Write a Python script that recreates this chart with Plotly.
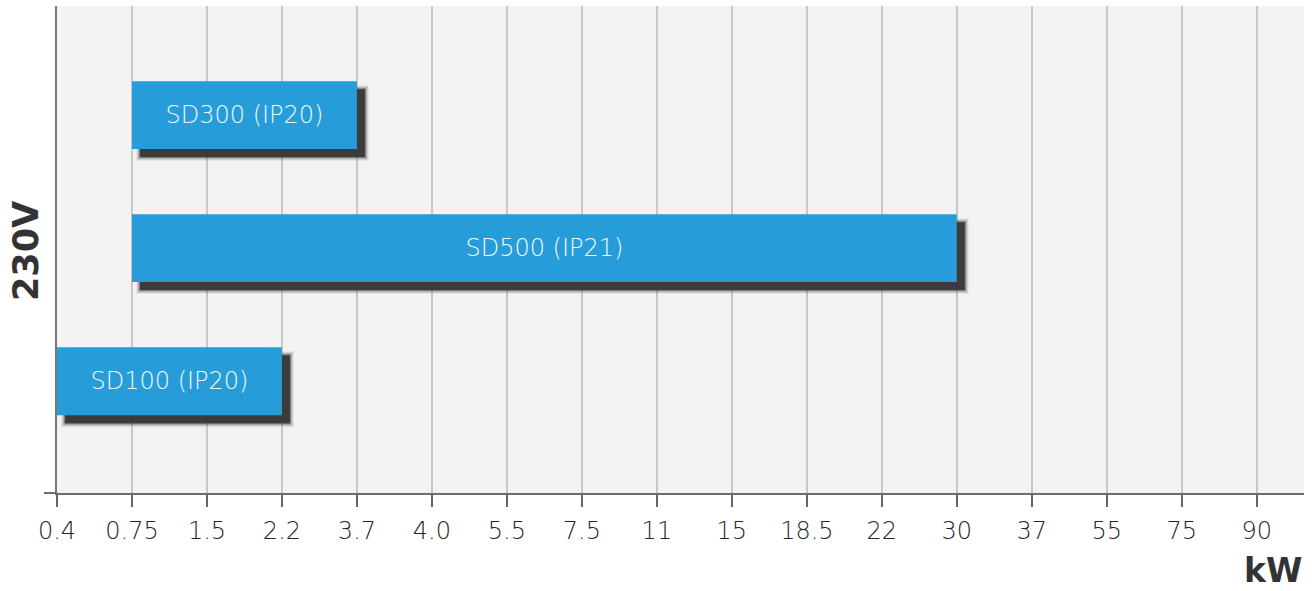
import plotly.graph_objects as go

# ---- data ----
kw_labels = ["0.4", "0.75", "1.5", "2.2", "3.7", "4.0", "5.5", "7.5", "11",
             "15", "18.5", "22", "30", "37", "55", "75", "90"]
drives = ["SD100 (IP20)", "SD500 (IP21)", "SD300 (IP20)"]
start_kw = ["0.4", "0.75", "0.75"]
end_kw = ["2.2", "30", "3.7"]
voltage_label = "230V"
unit_label = "kW"

# ---- derived ----
idx = {k: i for i, k in enumerate(kw_labels)}
y_pos = list(range(len(drives)))
base = [idx[s] for s in start_kw]
length = [idx[e] - idx[s] for s, e in zip(start_kw, end_kw)]

W, H = 1312, 591
ml, mr, mt, mb = 57, 8, 6, 98
plot_w = W - ml - mr
plot_h = H - mt - mb
x_range = [0, 16.63]
y_range = [-0.84, 2.82]
px_x = plot_w / (x_range[1] - x_range[0])
px_y = plot_h / (y_range[1] - y_range[0])
bar_w = 0.51

FONT = "DejaVu Sans"
fig = go.Figure()

# shadow layers (soft blur approximation)
sdx, sdy = 8 / px_x, 8 / px_y
for grow, alpha in [(4, 0.08), (3, 0.12), (2, 0.2), (1, 0.35), (0, 0.88)]:
    gx, gy = grow / px_x, grow / px_y
    fig.add_trace(go.Bar(
        orientation="h",
        y=[v - sdy for v in y_pos],
        base=[b + sdx - gx for b in base],
        x=[l + 2 * gx for l in length],
        width=bar_w + 2 * gy,
        marker=dict(color=f"rgba(50,50,50,{alpha})", line=dict(width=0)),
        hoverinfo="skip", showlegend=False,
    ))

fig.add_trace(go.Bar(
    orientation="h",
    y=y_pos, base=base, x=length, width=bar_w,
    marker=dict(color="#269dd9", line=dict(width=0)),
    text=drives, textposition="inside", insidetextanchor="middle",
    textfont=dict(family=FONT, size=24, color="#f0f8fd", weight=200),
    constraintext="none",
    showlegend=False, name="",
))

fig.update_layout(
    width=W, height=H,
    margin=dict(l=ml, r=mr, t=mt, b=mb, autoexpand=False),
    barmode="overlay",
    plot_bgcolor="#f3f3f3", paper_bgcolor="white",
    font=dict(family=FONT),
    xaxis=dict(
        range=x_range, tickmode="array",
        tickvals=list(range(len(kw_labels))), ticktext=kw_labels,
        showgrid=True, gridcolor="#c8c8c8", gridwidth=2,
        ticks="outside", ticklen=12, tickwidth=2, tickcolor="#666",
        showline=True, linecolor="#6d6d6d", linewidth=2,
        tickfont=dict(family=FONT, size=24, color="#262626", weight=200),
        ticklabelstandoff=3, zeroline=False, fixedrange=True,
    ),
    yaxis=dict(
        range=y_range, showticklabels=False, showgrid=False, zeroline=False,
        showline=True, linecolor="#777", linewidth=2, ticks="",
        fixedrange=True,
    ),
    shapes=[dict(type="line", xref="paper", yref="paper",
                 x0=(44 - ml) / plot_w, x1=0, y0=0, y1=0,
                 line=dict(color="#6d6d6d", width=2))],
    annotations=[
        dict(text=f"<b>{voltage_label}</b>", xref="paper", yref="paper",
             x=(26 - ml) / plot_w, y=(H - mb - 251) / plot_h,
             xanchor="center", yanchor="middle",
             textangle=-90, showarrow=False,
             font=dict(family=FONT, size=35, color="#333")),
        dict(text=f"<b>{unit_label}</b>", xref="paper", yref="paper",
             x=1.0, xanchor="right", y=(H - mb - 570) / plot_h, yanchor="middle",
             showarrow=False, font=dict(family=FONT, size=33, color="#333")),
    ],
)

fig.write_html("out.html", config={"displayModeBar": False},
               post_script="document.body.style.margin='0';document.body.style.padding='0';")
